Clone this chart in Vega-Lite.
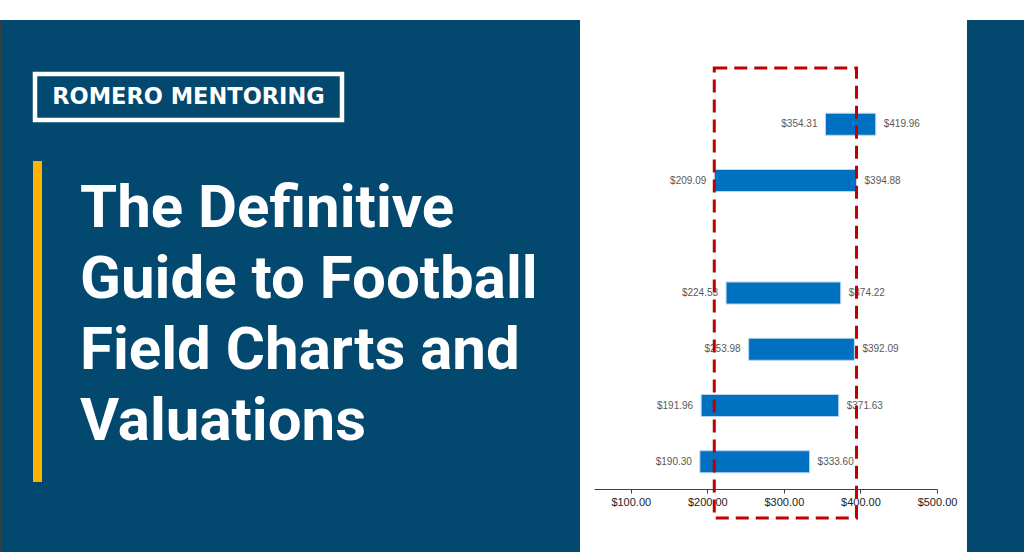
{
  "$schema": "https://vega.github.io/schema/vega-lite/v6.json",
  "background": "#03486F",
  "padding": 0,
  "config": {"view": {"stroke": null}},
  "spacing": 0,
  "bounds": "flush",
  "vconcat": [
    {
      "width": 1024,
      "height": 20,
      "view": {"fill": "#ffffff"},
      "data": {"values": []},
      "mark": "point"
    },
    {
      "spacing": 0,
      "bounds": "full",
      "hconcat": [
        {
          "spacing": 34,
          "bounds": "flush",
          "hconcat": [
            {
              "width": 1,
              "height": 532,
              "view": {"fill": "#3c3c3c"},
              "data": {"values": []},
              "mark": "point"
            },
            {
              "spacing": 0,
              "bounds": "flush",
              "vconcat": [
                {"width": 545, "height": 54, "view": {"fill": "#03486F"}, "data": {"values": []}, "mark": "point"},
                {
                  "width": 307,
                  "height": 46,
                  "view": {"stroke": "#ffffff", "strokeWidth": 4.5},
                  "data": {"values": [{"brand": "ROMERO MENTORING"}]},
                  "mark": {"type": "text", "font": "DejaVu Sans", "fontWeight": "bold", "fontSize": 22.5, "color": "#ffffff"},
                  "encoding": {"text": {"field": "brand", "type": "nominal"}}
                },
                {"width": 1, "height": 43, "data": {"values": []}, "mark": "point"},
                {
                  "width": 5,
                  "height": 317,
                  "view": {"fill": "#FFB300", "stroke": "#FFB300", "strokeWidth": 4},
                  "title": {
                    "text": ["The Definitive", "Guide to Football", "Field Charts and", "Valuations"],
                    "orient": "top",
                    "anchor": "start",
                    "frame": "group",
                    "align": "left",
                    "baseline": "alphabetic",
                    "offset": 0,
                    "dx": 45,
                    "dy": 337,
                    "font": "Roboto",
                    "fontWeight": "bold",
                    "fontSize": 60,
                    "lineHeight": 71,
                    "color": "#ffffff"
                  },
                  "data": {"values": []},
                  "mark": "point"
                }
              ]
            }
          ]
        },
        {
          "width": 387,
          "height": 532,
          "view": {"fill": "#ffffff"},
          "data": {
            "values": [
              {"method": "Range 1", "low": 354.31, "high": 419.96},
              {"method": "Range 2", "low": 209.09, "high": 394.88},
              {"method": "Range 4", "low": 224.53, "high": 374.22},
              {"method": "Range 5", "low": 253.98, "high": 392.09},
              {"method": "Range 6", "low": 191.96, "high": 371.63},
              {"method": "Range 7", "low": 190.30, "high": 333.60}
            ]
          },
          "resolve": {"scale": {"y": "independent"}, "axis": {"y": "independent"}},
          "layer": [
            {
              "encoding": {
                "y": {
                  "field": "method",
                  "type": "nominal",
                  "axis": null,
                  "scale": {
                    "domain": ["Range 1", "Range 2", "Range 3", "Range 4", "Range 5", "Range 6", "Range 7"],
                    "range": [48, 498],
                    "paddingInner": 0,
                    "paddingOuter": 0.5
                  }
                }
              },
              "layer": [
                {
                  "mark": {"type": "bar", "height": 22, "color": "#0070C0", "stroke": "#b9d5ef", "strokeWidth": 1},
                  "encoding": {
                    "x": {
                      "field": "low",
                      "type": "quantitative",
                      "scale": {"domain": [52, 500], "range": [14, 357], "nice": false, "zero": false},
                      "axis": {
                        "values": [100, 200, 300, 400, 500],
                        "format": "$,.2f",
                        "title": null,
                        "orient": "bottom",
                        "offset": -63,
                        "grid": false,
                        "domainColor": "#404040",
                        "tickColor": "#404040",
                        "tickSize": 4,
                        "labelFlush": false,
                        "labelOverlap": false,
                        "labelFont": "Liberation Sans",
                        "labelFontSize": 11,
                        "labelColor": "#222222",
                        "labelPadding": 3
                      }
                    },
                    "x2": {"field": "high"}
                  }
                },
                {
                  "mark": {"type": "text", "align": "right", "dx": -8, "font": "Liberation Sans", "fontSize": 10, "color": "#595959"},
                  "encoding": {
                    "x": {"field": "low", "type": "quantitative"},
                    "text": {"field": "low", "type": "quantitative", "format": "$,.2f"}
                  }
                },
                {
                  "mark": {"type": "text", "align": "left", "dx": 8, "font": "Liberation Sans", "fontSize": 10, "color": "#595959"},
                  "encoding": {
                    "x": {"field": "high", "type": "quantitative"},
                    "text": {"field": "high", "type": "quantitative", "format": "$,.2f"}
                  }
                }
              ]
            },
            {
              "transform": [{"filter": "datum.method === 'Range 2'"}],
              "mark": {"type": "rect", "filled": false, "color": "#C00000", "strokeWidth": 3, "strokeDash": [13, 7]},
              "encoding": {
                "x": {"field": "low", "type": "quantitative"},
                "x2": {"field": "high"},
                "y": {
                  "field": "method",
                  "type": "nominal",
                  "axis": null,
                  "scale": {"domain": ["Range 2"], "range": [48, 498], "paddingInner": 0, "paddingOuter": 0}
                }
              }
            }
          ]
        }
      ]
    }
  ]
}
